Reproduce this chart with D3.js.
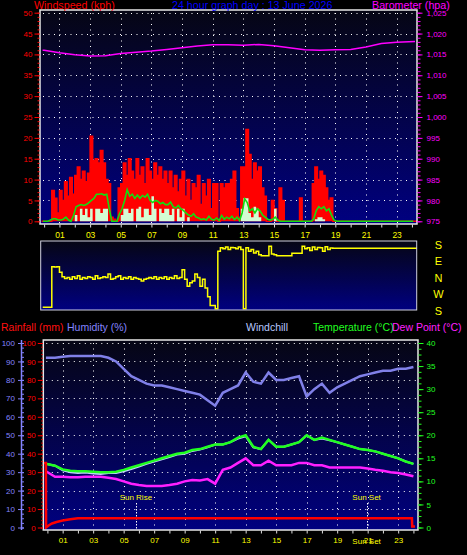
<!DOCTYPE html>
<html><head><meta charset="utf-8">
<script src="https://cdn.jsdelivr.net/npm/d3@7"></script>
<style>body{margin:0;background:#000;}svg{display:block;}</style>
</head><body><svg id="c" width="467" height="555"></svg>
<script>
// ---------------- DATA ----------------
const hourTicks = d3.range(0, 25, 1);
const hourLabels = ["01","03","05","07","09","11","13","15","17","19","21","23"];
const windTitle = "Windspeed (kph)";
const dateTitle = "24 hour graph day : 13 June 2026";
const baroTitle = "Barometer (hpa)";
// wind samples: every 10 minutes, first at -10 min
const windGust = [0,
 0,0,0,7.4,5.5,2,
 7.4,5,9.5,6,10.5,6.5,
 11,13,10,12,9.5,11.5,
 20.4,14.5,15,14,17,14,
 10,9,1,0.5,0,8,
 9,14,11,15,12,10,
 15,11,13,9,15,12,
 10,14,11,13,10,12,
 9,12,8,11,7,10,
 12,6,10,5,9,8,
 11,4,9,6,10,3,
 9,9,0,9,8,9,
 9,10,12,3,1,13,
 13,22,16,10,14,12,
 13,8,6,0,0,5,
 3,0,8,5,0,0,
 0,0,0,0,5.6,0,
 0,0,0,9,13,10,
 12,11,8,5,5.6,0,
 0,0,0,0,0,0, 0,0,0,0,0,0, 0,0,0,0,0,0, 0,0,0,0,0,0, 0,0,0,0,0,0,
 0];
const windAvg = [0,
 0,0,0.3,0.6,0.6,0.3,
 0.3,0.5,1,0.3,0,1.4,
 3.5,3.8,4,3.8,4,4.5,
 5,5.5,6.5,6.5,6.6,6.3,
 6.5,3,0,0,0,1.8,
 3,5,7.6,6,6.5,5.5,
 6.3,5.5,6.2,5.8,6.5,5,
 4.5,5,4.8,4.2,4.5,4,
 4,4.6,3.5,3.2,3.8,3,
 2.6,2,1.5,1.2,1.8,1,
 0.8,0.4,0.6,0.3,1.2,0.5,
 0.3,0.8,0.2,1.4,0.5,1,
 0.6,1.2,0.4,1,0.2,2,
 5.4,4.5,2.5,3,2,3,
 2.5,1.5,1,0.5,0.3,0.5,
 1,0.3,0,0,0,0,
 0,0,0,0,0,0,
 0,0,0,0.5,2.5,3.5,
 3,3.5,2.5,3,1.5,0.3,
 0,0,0,0,0,0, 0,0,0,0,0,0, 0,0,0,0,0,0, 0,0,0,0,0,0, 0,0,0,0,0,0,
 0];
const windLull = [0,
 0,0,0,0,0,0,
 0,0,0,0,0,0,
 1.5,0,3,1.5,3,1,
 3,0,3,3,2,3,
 3,0,0,0,0,0,
 1.5,3,3,2,3,0,
 3,3.5,1,3,3,1.5,
 6,3,0,3,2,3,
 3,1.5,3,0,3,1,
 3,0,1,0,0,0,
 0,0,0,0,0,0,
 0,0,0,0,0,0,
 0,0,0,0,0,3,
 5.5,5.5,2,1,3.5,3,
 1,0,0,0,0,0,
 3,0,0,0,0,0,
 0,0,0,0,0,0,
 0,0,0,0,0.5,1,
 1,0.5,0,0,0,0,
 0,0,0,0,0,0, 0,0,0,0,0,0, 0,0,0,0,0,0, 0,0,0,0,0,0, 0,0,0,0,0,0,
 0];
// wind direction, degrees (same 10-minute samples)
const windDir = [190,
 190,190,190,62,60,62,
 30,5,355,0,350,5,
 355,10,350,0,355,5,
 0,350,10,355,358,5,
 0,20,350,355,5,10,
 350,0,355,5,350,0,
 355,350,340,350,355,0,
 355,5,350,0,355,5,
 350,0,355,10,355,0,
 45,350,310,330,340,20,
 0,310,350,300,250,200,
 200,181,150,170,165,175,
 160,172,170,165,175,160,
 181,170,150,160,140,150,
 130,125,125,125,178,135,
 130,125,125,125,125,125,
 125,138,138,138,138,178,
 165,170,155,175,160,172,
 170,150,176,160,168,167,
 167,167,167,167,167,167, 167,167,167,167,167,167, 167,167,167,167,167,167,
 167,167,167,167,167,167, 167,167,167,167,167,167,
 167];
const compassLabels = ["S","E","N","W","S"];
// barometer (hPa)
const baroTimes = [-0.1,0,1,2,3,4,5,6,7,8,9,10,11,12,13,14,15,16,17,18,19,20,21,22,23,24.2];
const baroValues = [1016.0,1016.0,1015.4,1014.9,1014.6,1014.7,1015.2,1015.5,1015.8,1016.2,1016.6,1017.0,1017.3,1017.3,1017.2,1017.4,1017.1,1016.6,1016.1,1016.0,1016.1,1016.2,1016.8,1017.6,1017.9,1018.1];

// bottom chart, half-hourly
const tempTimes = [-0.1].concat(d3.range(0.5, 24.01, 0.5));
const humidity = [92,92,92.5,93,93,93,93,93,92,90,86,82,80,78,77,77,76,75,74,73,72,69,66,73,75,77,84,79,78,84,80,80,81,82,71,75,78,73,76,78,80,82,83,84,85,85,86,86,87];
const temperature = [13.8,13.4,12.6,12.3,12.2,12.2,12.1,12.0,12.0,12.1,12.5,13.0,13.5,14.0,14.5,15.0,15.5,16.0,16.2,16.8,17.0,17.5,18.0,18.0,18.5,19.5,20.0,17.5,17.0,19.0,17.5,17.5,18.0,18.5,20.0,19.0,19.5,19.0,18.5,18.0,17.5,17.0,16.8,16.5,16.0,15.5,15.0,14.3,13.8];
const windchill = [13.8,13.4,12.4,12.0,11.8,11.9,11.7,11.6,11.8,11.8,12.2,12.7,13.2,13.8,14.3,14.8,15.3,15.8,16.0,16.6,16.9,17.4,18.0,18.0,18.5,19.3,19.8,17.4,17.0,19.0,17.5,17.5,18.0,18.5,20.0,19.0,19.3,18.9,18.5,18.0,17.5,17.0,16.8,16.5,16.0,15.5,15.0,14.3,13.8];
const dewPoint = [12.2,11.0,11.0,10.9,10.9,11.0,11.0,11.0,10.8,10.5,10.0,9.5,9.2,9.0,9.0,9.0,9.2,9.5,10.0,10.3,10.2,10.5,9.5,12.5,13.0,14.0,15.0,13.5,13.5,14.5,13.5,13.5,13.5,14.0,14.0,13.5,13.5,13.0,13.0,13.0,13.0,13.0,12.8,12.5,12.3,12.0,11.8,11.5,11.1];
const rainTimes = [-0.27,-0.1,-0.09,0.1,0.3,0.6,1.0,1.5,2.0,23.9,23.92,24.1];
const rainValues = [35,35,0,1.2,2.2,3.0,3.8,4.5,5.0,5.0,0.5,0.5];
const sunRise = 5.8, sunSet = 20.93;
const bottomTitles = [
  {t:"Rainfall (mm)", c:"#ff1010", x:1},
  {t:"Humidity (%)", c:"#8484ff", x:67},
  {t:"Windchill", c:"#b8c8ff", x:246},
  {t:"Temperature (°C)", c:"#20ff20", x:313},
  {t:"Dew Point (°C)", c:"#ff20ff", x:392}
];

// ---------------- DRAW ----------------
const svg = d3.select("#c");
const FONT = "Liberation Sans, Arial, sans-serif";
const defs = svg.append("defs");
const g1 = defs.append("linearGradient").attr("id","bg").attr("x1",0).attr("y1",0).attr("x2",0).attr("y2",1);
g1.append("stop").attr("offset","0%").attr("stop-color","#060614");
g1.append("stop").attr("offset","100%").attr("stop-color","#000080");

const YEL = "#ffff00";
const dotted = "1,4.5";

// ===== TOP CHART =====
const T = {l:40, r:417, t:10, b:224};
const xTop = d3.scaleLinear().domain([-0.27, 24.33]).range([T.l, T.r]);
const yWind = d3.scaleLinear().domain([0, 50]).range([221.3, 12.7]);
const yBaro = d3.scaleLinear().domain([975, 1025]).range([221.3, 12.7]);

defs.append("clipPath").attr("id","clipTop").append("rect")
  .attr("x",T.l).attr("y",T.t).attr("width",T.r-T.l).attr("height",T.b-T.t);
svg.append("rect").attr("x",T.l).attr("y",T.t).attr("width",T.r-T.l).attr("height",T.b-T.t).attr("fill","url(#bg)");

const gridTop = svg.append("g").attr("stroke","#ffffff").attr("stroke-width",1).attr("stroke-dasharray",dotted);
gridTop.selectAll("line.h").data(d3.range(5, 51, 5)).join("line")
  .attr("x1",T.l+3).attr("x2",T.r).attr("y1",d=>Math.round(yWind(d))+0.5).attr("y2",d=>Math.round(yWind(d))+0.5);
gridTop.selectAll("line.v").data(d3.range(1, 24, 2)).join("line")
  .attr("y1",T.t+3).attr("y2",T.b).attr("x1",d=>Math.round(xTop(d))+0.5).attr("x2",d=>Math.round(xTop(d))+0.5);

const windPts = windGust.map((v,i)=>({t:(i-1)/6, g:v, a:windAvg[i], l:windLull[i], d:windDir[i]}));
const last = windPts[windPts.length-1];
const windPtsExt = windPts.concat([{t:24.33, g:last.g, a:last.a, l:last.l, d:last.d}]);
const plotTop = svg.append("g").attr("clip-path","url(#clipTop)");
plotTop.append("path").datum(windPtsExt)
  .attr("d", d3.area().curve(d3.curveStepAfter).x(d=>xTop(d.t)).y0(yWind(0)).y1(d=>yWind(d.g)))
  .attr("fill","#ff0000");
plotTop.append("path").datum(windPtsExt)
  .attr("d", d3.line().curve(d3.curveStepAfter).x(d=>xTop(d.t)).y(d=>yWind(d.g)))
  .attr("fill","none").attr("stroke","#ff0000").attr("stroke-width",1.5);
plotTop.append("path").datum(windPtsExt)
  .attr("d", d3.area().curve(d3.curveStepAfter).x(d=>xTop(d.t)).y0(yWind(0)).y1(d=>yWind(d.l)))
  .attr("fill","#d4fcd4");
plotTop.append("path").datum(windPts)
  .attr("d", d3.line().x(d=>xTop(d.t)+1.3).y(d=>yWind(d.a)))
  .attr("fill","none").attr("stroke","#10e010").attr("stroke-width",1.6);
const baroPts = baroTimes.map((t,i)=>({t, v:baroValues[i]}));
plotTop.append("path").datum(baroPts)
  .attr("d", d3.line().x(d=>xTop(d.t)).y(d=>yBaro(d.v)))
  .attr("fill","none").attr("stroke","#ff00ff").attr("stroke-width",1.5);

svg.append("rect").attr("x",T.l).attr("y",T.t).attr("width",T.r-T.l).attr("height",T.b-T.t)
  .attr("fill","none").attr("stroke","#e8e8e8").attr("stroke-width",1.5);

function styleAxis(g, color, fs){
  g.select(".domain").remove();
  g.selectAll("line").attr("stroke",color);
  g.selectAll("text").attr("fill",color).attr("font-family",FONT).attr("font-size",fs);
}
// left wind axis
svg.append("g").attr("transform",`translate(${T.l-0.5},0)`)
  .call(d3.axisLeft(yWind).tickValues(d3.range(0,51,1)).tickSize(2).tickFormat(""))
  .call(g=>styleAxis(g,"#ff0000",8));
svg.append("g").attr("transform",`translate(${T.l-0.5},0)`)
  .call(d3.axisLeft(yWind).tickValues(d3.range(0,51,5)).tickSize(5).tickPadding(2))
  .call(g=>styleAxis(g,"#ff0000",8));
// right baro axis
svg.append("g").attr("transform",`translate(${T.r+0.5},0)`)
  .call(d3.axisRight(yBaro).tickValues(d3.range(975,1026,1)).tickSize(3).tickFormat(""))
  .call(g=>styleAxis(g,"#ff00ff",8));
svg.append("g").attr("transform",`translate(${T.r+0.5},0)`)
  .call(d3.axisRight(yBaro).tickValues(d3.range(975,1026,5)).tickSize(5).tickPadding(4))
  .call(g=>styleAxis(g,"#ff00ff",8));
// x ticks
svg.append("g").attr("transform",`translate(0,${T.b+0.5})`)
  .call(d3.axisBottom(xTop).tickValues(hourTicks).tickSize(3).tickFormat(""))
  .call(g=>styleAxis(g,"#e0e0e0",8));
svg.append("g").attr("transform",`translate(0,${T.b+0.5})`)
  .call(d3.axisBottom(xTop).tickValues(d3.range(1,24,2)).tickSize(0).tickPadding(7).tickFormat((d,i)=>hourLabels[i]))
  .call(g=>styleAxis(g,YEL,8.5));

// titles
svg.append("text").attr("x",34).attr("y",8.7).text(windTitle).attr("fill","#ff0000").attr("font-family",FONT).attr("font-size",10.7);
svg.append("text").attr("x",172).attr("y",8.7).text(dateTitle).attr("fill","#0000ff").attr("font-family",FONT).attr("font-size",10.7);
svg.append("text").attr("x",372).attr("y",8.7).text(baroTitle).attr("fill","#ff00ff").attr("font-family",FONT).attr("font-size",10.7);

// ===== DIRECTION CHART =====
const D = {l:40.7, r:416.7, t:241, b:310};
const yDir = d3.scaleLinear().domain([0,360]).range([309, 246]);
const toScale = deg => (deg + 180) % 360;
svg.append("rect").attr("x",D.l).attr("y",D.t).attr("width",D.r-D.l).attr("height",D.b-D.t).attr("fill","url(#bg)");
svg.append("path").datum(windPtsExt)
  .attr("d", d3.line().curve(d3.curveStepAfter).x(d=>Math.max(xTop(d.t),D.l+2)).y(d=>yDir(toScale(d.d))))
  .attr("fill","none").attr("stroke",YEL).attr("stroke-width",1.5);
svg.append("rect").attr("x",D.l).attr("y",D.t).attr("width",D.r-D.l).attr("height",D.b-D.t)
  .attr("fill","none").attr("stroke","#d0d0e0").attr("stroke-width",1);
const yCompass = d3.scaleLinear().domain([0,4]).range([245,311]);
svg.selectAll("text.cmp").data(compassLabels).join("text")
  .attr("x",438.5).attr("y",(d,i)=>yCompass(i)).attr("dy","0.36em").attr("text-anchor","middle")
  .attr("fill",YEL).attr("font-family",FONT).attr("font-size",11).text(d=>d);

// ===== BOTTOM CHART =====
const B = {l:43.3, r:418, t:340, b:530};
const xBot = d3.scaleLinear().domain([-0.27, 24.3]).range([B.l, B.r]);
const yHum = d3.scaleLinear().domain([0,100]).range([527.5, 343]);
const yRain = d3.scaleLinear().domain([0,100]).range([527.5, 343]);
const yTemp = d3.scaleLinear().domain([0,40]).range([527.5, 343]);

defs.append("clipPath").attr("id","clipBot").append("rect")
  .attr("x",B.l).attr("y",B.t).attr("width",B.r-B.l).attr("height",B.b-B.t);
svg.append("rect").attr("x",B.l).attr("y",B.t).attr("width",B.r-B.l).attr("height",B.b-B.t).attr("fill","url(#bg)");
const gridBot = svg.append("g").attr("stroke","#ffffff").attr("stroke-width",1).attr("stroke-dasharray",dotted);
gridBot.selectAll("line.h").data(d3.range(10, 101, 10)).join("line")
  .attr("x1",B.l+3).attr("x2",B.r).attr("y1",d=>Math.round(yHum(d))+0.5).attr("y2",d=>Math.round(yHum(d))+0.5);
gridBot.selectAll("line.v").data(d3.range(1, 24, 2)).join("line")
  .attr("y1",B.t+3).attr("y2",B.b).attr("x1",d=>Math.round(xBot(d))+0.5).attr("x2",d=>Math.round(xBot(d))+0.5);
// sunrise / sunset
[[sunRise,"Sun Rise"],[sunSet,"Sun Set"]].forEach(([h,lab])=>{
  svg.append("line").attr("x1",Math.round(xBot(h))+0.5).attr("x2",Math.round(xBot(h))+0.5).attr("y1",503).attr("y2",B.b)
    .attr("stroke","#ffffff").attr("stroke-dasharray","1.5,1.5");
  svg.append("text").attr("x",xBot(h)).attr("y",500).attr("text-anchor","middle").text(lab)
    .attr("fill",YEL).attr("font-family",FONT).attr("font-size",8);
});

const plotBot = svg.append("g").attr("clip-path","url(#clipBot)");
const tPts = tempTimes.map((t,i)=>({t, h:humidity[i], T:temperature[i], w:windchill[i], d:dewPoint[i]}));
plotBot.append("path").datum(tPts)
  .attr("d", d3.line().x(d=>xBot(d.t)).y(d=>yHum(d.h)))
  .attr("fill","none").attr("stroke","#8080e8").attr("stroke-width",2.5);
plotBot.append("path").datum(tPts)
  .attr("d", d3.line().x(d=>xBot(d.t)).y(d=>yTemp(d.w)))
  .attr("fill","none").attr("stroke","#c0d0ff").attr("stroke-width",2);
plotBot.append("path").datum(tPts)
  .attr("d", d3.line().x(d=>xBot(d.t)).y(d=>yTemp(d.T)))
  .attr("fill","none").attr("stroke","#20ff20").attr("stroke-width",2.5);
plotBot.append("path").datum(tPts)
  .attr("d", d3.line().x(d=>xBot(d.t)).y(d=>yTemp(d.d)))
  .attr("fill","none").attr("stroke","#ff20ff").attr("stroke-width",2.5);
const rPts = rainTimes.map((t,i)=>({t, v:rainValues[i]}));
plotBot.append("path").datum(rPts)
  .attr("d", d3.line().x(d=>xBot(d.t)).y(d=>yRain(d.v)))
  .attr("fill","none").attr("stroke","#ff0000").attr("stroke-width",2.5);

svg.append("rect").attr("x",B.l).attr("y",B.t).attr("width",B.r-B.l).attr("height",B.b-B.t)
  .attr("fill","none").attr("stroke","#e8e8e8").attr("stroke-width",1.5);

// humidity axis (far left)
svg.append("line").attr("x1",21.5).attr("x2",21.5).attr("y1",B.t).attr("y2",B.b).attr("stroke","#8484ff").attr("stroke-width",1.5);
svg.append("g").attr("transform","translate(24,0)")
  .call(d3.axisLeft(yHum).tickValues(d3.range(0,101,2.5)).tickSize(2).tickFormat(""))
  .call(g=>styleAxis(g,"#8484ff",8));
svg.append("g").attr("transform","translate(24,0)")
  .call(d3.axisLeft(yHum).tickValues(d3.range(0,101,10)).tickSize(6).tickPadding(3))
  .call(g=>styleAxis(g,"#8484ff",8));
// rain axis
svg.append("g").attr("transform",`translate(${B.l-0.5},0)`)
  .call(d3.axisLeft(yRain).tickValues(d3.range(0,101,2)).tickSize(1.5).tickFormat(""))
  .call(g=>styleAxis(g,"#ff0000",8));
svg.append("g").attr("transform",`translate(${B.l-0.5},0)`)
  .call(d3.axisLeft(yRain).tickValues(d3.range(0,101,10)).tickSize(5).tickPadding(2))
  .call(g=>styleAxis(g,"#ff0000",8));
// temperature axis (right)
svg.append("g").attr("transform",`translate(${B.r+0.5},0)`)
  .call(d3.axisRight(yTemp).tickValues(d3.range(0,41,1.25)).tickSize(3).tickFormat(""))
  .call(g=>styleAxis(g,"#20ff20",8));
svg.append("g").attr("transform",`translate(${B.r+0.5},0)`)
  .call(d3.axisRight(yTemp).tickValues(d3.range(0,41,5)).tickSize(5).tickPadding(3))
  .call(g=>styleAxis(g,"#20ff20",8));
// x axis bottom
svg.append("g").attr("transform",`translate(0,${B.b+0.5})`)
  .call(d3.axisBottom(xBot).tickValues(hourTicks).tickSize(3).tickFormat(""))
  .call(g=>styleAxis(g,"#e0e0e0",8));
svg.append("g").attr("transform",`translate(0,${B.b+0.5})`)
  .call(d3.axisBottom(xBot).tickValues(d3.range(1,24,2)).tickSize(0).tickPadding(7).tickFormat((d,i)=>hourLabels[i]))
  .call(g=>styleAxis(g,YEL,8));
svg.append("text").attr("x",xBot(sunSet)).attr("y",544).attr("text-anchor","middle").text("Sun Set")
  .attr("fill",YEL).attr("font-family",FONT).attr("font-size",8);

// bottom titles
svg.selectAll("text.bt").data(bottomTitles).join("text")
  .attr("x",d=>d.x).attr("y",331).text(d=>d.t).attr("fill",d=>d.c)
  .attr("font-family",FONT).attr("font-size",10.5);
</script></body></html>
